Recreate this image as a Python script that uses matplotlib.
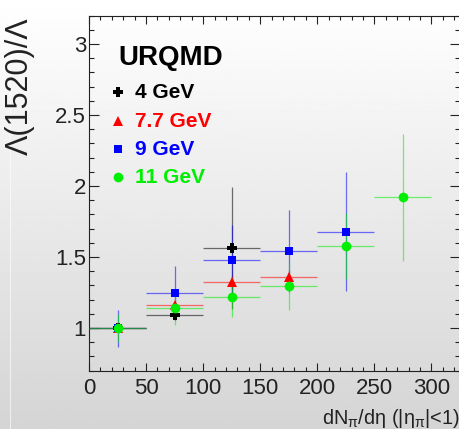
#Import libraries
import numpy as np
import matplotlib
matplotlib.use("Agg")
import matplotlib.pyplot as plt
from matplotlib.ticker import MultipleLocator

#Data (ratio vs dN/deta bins, bin half width 25)
x_all = [25, 75, 125, 175, 225, 275]
bin_half = 25

y_4 = [1.0, 1.09, 1.566]
e_4 = [0.0, 0.03, 0.43]

y_77 = [1.0, 1.163, 1.327, 1.36]
e_77 = [0.0, 0.02, 0.05, 0.05]

y_9 = [1.0, 1.247, 1.482, 1.543, 1.68]
e_9 = [0.13, 0.19, 0.245, 0.29, 0.42]

y_11 = [1.0, 1.142, 1.219, 1.296, 1.578, 1.92]
e_11 = [0.1, 0.12, 0.14, 0.17, 0.235, 0.45]

labels = ["4 GeV", "7.7 GeV", "9 GeV", "11 GeV"]

#Fonts
plt.rcParams["font.family"] = ["Liberation Sans", "DejaVu Sans"]
plt.rcParams["mathtext.fontset"] = "custom"
plt.rcParams["mathtext.rm"] = "Liberation Sans"
plt.rcParams["mathtext.it"] = "Liberation Sans"

fig = plt.figure(figsize=(4.6, 4.29), dpi=100)

#Grey gradient background like the ROOT canvas
bg = fig.add_axes([0, 0, 1, 1], zorder=-1)
grad = np.linspace(0, 1, 256).reshape(-1, 1)
bg.imshow(grad, aspect="auto", cmap="gray", vmin=-5.0, vmax=1.0, extent=[0, 1, 0, 1], origin="lower")
bg.axvline(10 / 460, color="white", lw=0.8, alpha=0.6)
bg.set_xlim(0, 1)
bg.set_ylim(0, 1)
bg.axis("off")

ax = fig.add_axes([89 / 460, 1 - 370.7 / 429, 371 / 460, 355 / 429])
ax.set_facecolor("none")

#Series: black, red, blue, green (green on top)
series = [
    (y_4, e_4, "black", "P", 7.0),
    (y_77, e_77, "red", "^", 6.5),
    (y_9, e_9, "blue", "s", 6.0),
    (y_11, e_11, "#00ee00", "o", 7.0),
]

for i, (yv, ev, col, mk, ms) in enumerate(series):
    xv = x_all[:len(yv)]
    ax.errorbar(xv, yv, xerr=bin_half, yerr=ev, fmt="none",
                ecolor=col, elinewidth=0.9, alpha=0.55, capsize=0, zorder=2 + i)
    ax.plot(xv, yv, linestyle="none", marker=mk, color=col,
            markersize=ms, markeredgewidth=0, zorder=10 + i)

#Axes limits and ticks
ax.set_xlim(0, 325)
ax.set_ylim(0.7, 3.2)
ax.xaxis.set_major_locator(MultipleLocator(50))
ax.xaxis.set_minor_locator(MultipleLocator(10))
ax.yaxis.set_major_locator(MultipleLocator(0.5))
ax.yaxis.set_minor_locator(MultipleLocator(0.1))
ax.tick_params(axis="both", which="both", direction="in", top=True, right=True,
               colors="#222222", labelsize=16)
ax.tick_params(axis="x", which="major", length=6, width=0.8, pad=5)
ax.tick_params(axis="x", which="minor", length=3, width=0.8)
ax.tick_params(axis="y", which="major", length=7.5, width=0.8, pad=2)
ax.tick_params(axis="y", which="minor", length=3.8, width=0.8)
ax.xaxis.set_major_formatter(plt.FuncFormatter(lambda v, p: f"{v:g}"))
ax.yaxis.set_major_formatter(plt.FuncFormatter(lambda v, p: f"{v:g}"))
for s in ax.spines.values():
    s.set_linewidth(0.8)
    s.set_color("#222222")

#Axis titles (ROOT style, at the ends)
ax.set_ylabel("Λ(1520)/Λ", fontsize=22, loc="top", color="#222222")
ax.yaxis.set_label_coords(-0.145, 0.996)
ax.set_xlabel(r"dN$_{\mathregular{π}}$/dη (|η$_{\mathregular{π}}$|<1)", fontsize=14.4,
              loc="right", color="#222222")
ax.xaxis.set_label_coords(1.0, -0.103)

#Legend drawn by hand
ax.text(0.078, 0.861, "URQMD", transform=ax.transAxes, fontsize=20,
        fontweight="bold", color="black", va="baseline")
rows = [0.785, 0.703, 0.624, 0.545]
for (yv, ev, col, mk, ms), lab, yr in zip(series, labels, rows):
    ax.plot([0.078], [yr], transform=ax.transAxes, marker=mk, color=col,
            markersize=ms, markeredgewidth=0, linestyle="none", clip_on=False)
    ax.text(0.124, yr, lab, transform=ax.transAxes, fontsize=15,
            fontweight="bold", color=col, va="center")

plt.savefig("out.png", dpi=100)
